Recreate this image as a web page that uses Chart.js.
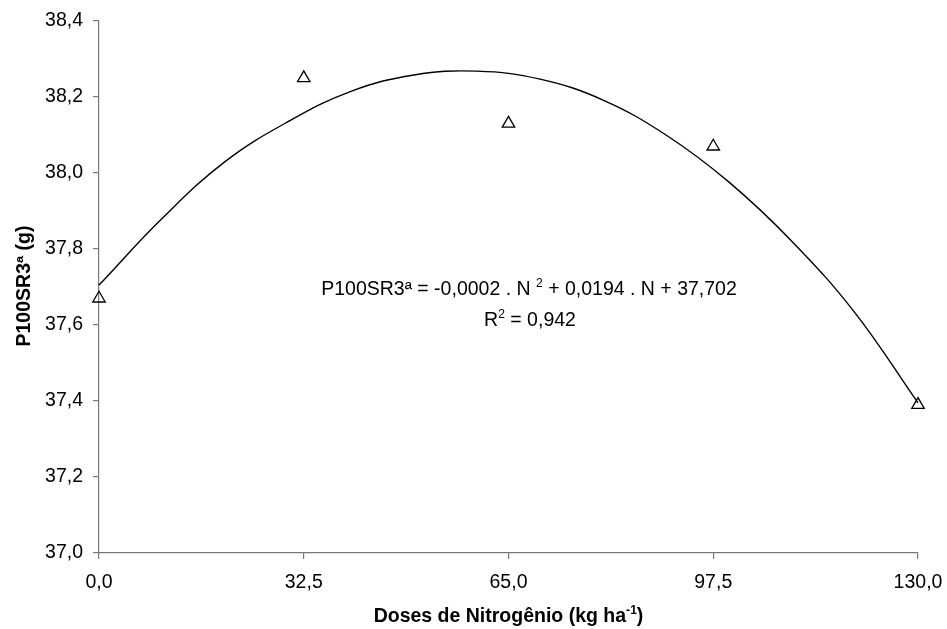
<!DOCTYPE html>
<html>
<head>
<meta charset="utf-8">
<title>P100SR3ª x Doses de Nitrogênio</title>
<script src="https://cdn.jsdelivr.net/npm/chart.js@4/dist/chart.umd.min.js"></script>
<style>
  html, body { margin: 0; padding: 0; background: #fff; }
  #wrap { width: 947px; height: 629px; }
</style>
</head>
<body>
<div id="wrap"><canvas id="chart" width="947" height="629"></canvas></div>
<script>
// Observed means per nitrogen dose
const doses = [0, 32.5, 65, 97.5, 130];
const p100 = [37.67, 38.25, 38.13, 38.07, 37.39];

// Fitted quadratic trend, sampled along the dose range
const trendDoses = [0, 10, 20, 30, 40, 50, 60, 70, 80, 90, 100, 110, 120, 130];
const trendValues = [37.705, 37.88, 38.03, 38.135, 38.215, 38.258, 38.268, 38.247, 38.192, 38.10, 37.976, 37.82, 37.632, 37.395];

// Axis settings
const xTickValues = [0, 32.5, 65, 97.5, 130];
const yMin = 37.0, yMax = 38.4, yStep = 0.2;

// Text blocks
const xTitle = [{ t: 'Doses de Nitrogênio (kg ha' }, { t: '-1', sup: true }, { t: ')' }];
const yTitle = 'P100SR3ª (g)';
const eqLine1 = [{ t: 'P100SR3ª = -0,0002 . N ' }, { t: '2', sup: true }, { t: ' + 0,0194 . N + 37,702' }];
const eqLine2 = [{ t: 'R' }, { t: '2', sup: true }, { t: ' = 0,942' }];

const FAMILY = "'Liberation Sans', Arial, Helvetica, sans-serif";
const AXIS_GREY = '#787878';
const fmt = v => Number(v).toFixed(1).replace('.', ',');

Chart.defaults.font.family = FAMILY;
Chart.defaults.color = '#000';

// Draws a line of text that may contain superscript pieces, centred on cx
function drawRich(ctx, parts, cx, baseline, size, weight) {
  const supSize = size * 0.62;
  const fontFor = p => `${weight} ${p.sup ? supSize : size}px ${FAMILY}`;
  let total = 0;
  parts.forEach(p => { ctx.font = fontFor(p); total += ctx.measureText(p.t).width; });
  let x = cx - total / 2;
  ctx.textAlign = 'left';
  ctx.textBaseline = 'alphabetic';
  parts.forEach(p => {
    ctx.font = fontFor(p);
    ctx.fillText(p.t, x, p.sup ? baseline - size * 0.42 : baseline);
    x += ctx.measureText(p.t).width;
  });
}

const textPlugin = {
  id: 'chartTexts',
  afterDraw(chart) {
    const ctx = chart.ctx;
    const area = chart.chartArea;
    ctx.save();
    ctx.fillStyle = '#000';
    // x axis title
    drawRich(ctx, xTitle, (area.left + area.right) / 2, 622, 19.5, 'bold');
    // y axis title
    ctx.save();
    ctx.translate(30, (area.top + area.bottom) / 2 - 1);
    ctx.rotate(-Math.PI / 2);
    ctx.font = `bold 19.5px ${FAMILY}`;
    ctx.textAlign = 'center';
    ctx.textBaseline = 'alphabetic';
    ctx.fillText(yTitle, 0, 0);
    ctx.restore();
    // regression equation
    drawRich(ctx, eqLine1, 529, 295, 19.5, 'normal');
    drawRich(ctx, eqLine2, 530, 326, 19.5, 'normal');
    ctx.restore();
  }
};

new Chart(document.getElementById('chart'), {
  type: 'scatter',
  data: {
    datasets: [
      {
        label: 'Observado',
        data: doses.map((d, i) => ({ x: d, y: p100[i] })),
        showLine: false,
        pointStyle: 'triangle',
        pointRadius: 7.2,
        pointHoverRadius: 7.2,
        pointBorderWidth: 1.3,
        borderColor: '#000',
        backgroundColor: 'rgba(0,0,0,0)',
        clip: false,
        order: 0
      },
      {
        label: 'Ajuste',
        data: trendDoses.map((d, i) => ({ x: d, y: trendValues[i] })),
        showLine: true,
        pointRadius: 0,
        borderColor: '#000',
        borderWidth: 1.4,
        tension: 0.4,
        fill: false,
        clip: false,
        order: 1
      }
    ]
  },
  options: {
    responsive: false,
    animation: false,
    devicePixelRatio: 1,
    layout: { padding: { top: 21, right: 29, left: 0, bottom: 0 } },
    plugins: {
      legend: { display: false },
      tooltip: { enabled: false },
      title: { display: false }
    },
    scales: {
      x: {
        type: 'linear',
        min: xTickValues[0],
        max: xTickValues[xTickValues.length - 1],
        afterBuildTicks: scale => { scale.ticks = xTickValues.map(v => ({ value: v })); },
        afterFit: scale => {
          scale.height = 76;
          scale.paddingLeft = 0;
          scale.paddingRight = 0;
        },
        ticks: {
          font: { size: 19.5 },
          color: '#000',
          padding: 12,
          maxRotation: 0,
          autoSkip: false,
          callback: v => fmt(v)
        },
        grid: { drawOnChartArea: false, drawTicks: true, tickLength: 6, color: AXIS_GREY, lineWidth: 1.2 },
        border: { display: true, color: AXIS_GREY, width: 1.2 }
      },
      y: {
        type: 'linear',
        min: yMin,
        max: yMax,
        afterFit: scale => {
          scale.width = 99;
          scale.paddingTop = 0;
          scale.paddingBottom = 0;
        },
        ticks: {
          stepSize: yStep,
          font: { size: 19.5 },
          color: '#000',
          padding: 10,
          callback: v => fmt(v)
        },
        grid: { drawOnChartArea: false, drawTicks: true, tickLength: 6, color: AXIS_GREY, lineWidth: 1.2 },
        border: { display: true, color: AXIS_GREY, width: 1.2 }
      }
    }
  },
  plugins: [textPlugin]
});
</script>
</body>
</html>
